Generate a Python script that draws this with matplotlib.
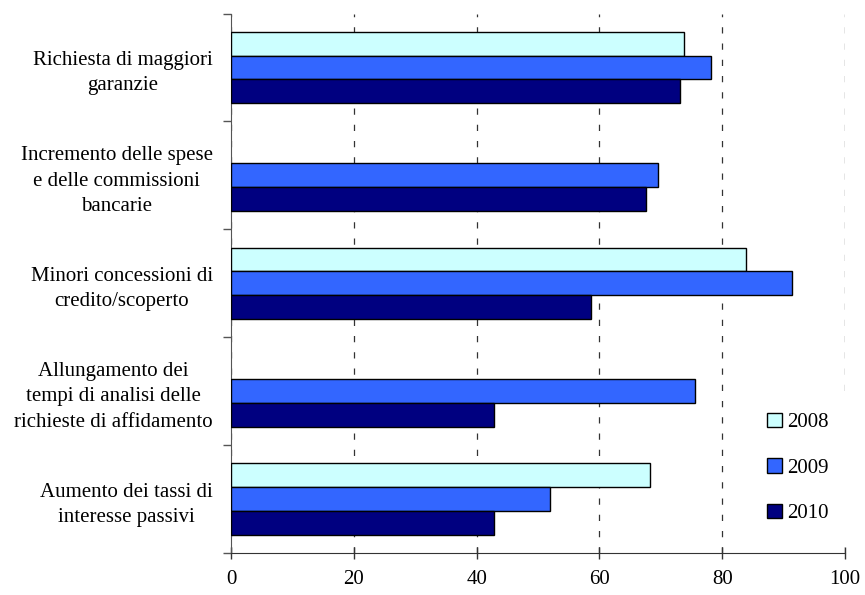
import numpy as np
import matplotlib
matplotlib.use("Agg")
import matplotlib.pyplot as plt
from matplotlib.ticker import FixedLocator

plt.rcParams['font.family'] = ['Liberation Serif', 'DejaVu Serif']

categories = [
    "Richiesta di maggiori\ngaranzie",
    "Incremento delle spese\ne delle commissioni\nbancarie",
    "Minori concessioni di\ncredito/scoperto",
    "Allungamento dei\ntempi di analisi delle\nrichieste di affidamento",
    "Aumento dei tassi di\ninteresse passivi",
]
years = ["2008", "2009", "2010"]
v2008 = [73.7, np.nan, 83.9, np.nan, 68.2]
v2009 = [78.1, 69.6, 91.3, 75.6, 52.0]
v2010 = [73.1, 67.6, 58.7, 42.8, 42.8]
colors = ["#CCFFFF", "#3366FF", "#000080"]

fig = plt.figure(figsize=(8.65, 5.95), dpi=100)
ax = fig.add_axes([0.267, 0.0706, 0.710, 0.9067])

y = np.arange(len(categories))
h = 0.22
for k, (vals, col, lab) in enumerate(zip([v2008, v2009, v2010], colors, years)):
    ax.barh(y + (k - 1) * h, vals, height=h, color=col, edgecolor="black",
            linewidth=1.0, label=lab, zorder=3)

ax.set_xlim(0, 100)
ax.set_ylim(4.5, -0.5)
ax.set_xticks([0, 20, 40, 60, 80, 100])

# category labels at group centres, tick marks on the boundaries
ax.set_yticks(y)
ax.set_yticklabels(categories, ha="right", multialignment="center",
                   linespacing=1.45, fontsize=15)
ax.yaxis.set_minor_locator(FixedLocator(np.arange(-0.5, 5.0, 1.0)))
ax.tick_params(axis="y", which="major", length=0, pad=13)
ax.tick_params(axis="y", which="minor", length=6, width=1, color="#555555",
               direction="out")
ax.tick_params(axis="x", which="major", length=8, width=1, direction="inout",
               pad=8, labelsize=15, color="#333333")

ax.xaxis.grid(True, linestyle=(0, (5, 8)), color="#333333", linewidth=0.9,
              zorder=0)
ax.set_axisbelow(True)

for s in ["top", "right"]:
    ax.spines[s].set_visible(False)
ax.spines["left"].set_color("#555555")
ax.spines["bottom"].set_color("#333333")

leg = ax.legend(loc="center", bbox_to_anchor=(798 / 865, 1 - 468 / 595),
                bbox_transform=fig.transFigure, fontsize=15, frameon=True,
                fancybox=False, edgecolor="none", facecolor="white",
                framealpha=1, handlelength=0.7, handleheight=0.7,
                handletextpad=0.25, labelspacing=1.25, borderpad=1.0)
leg.set_zorder(5)

fig.savefig("out.png", dpi=100)
